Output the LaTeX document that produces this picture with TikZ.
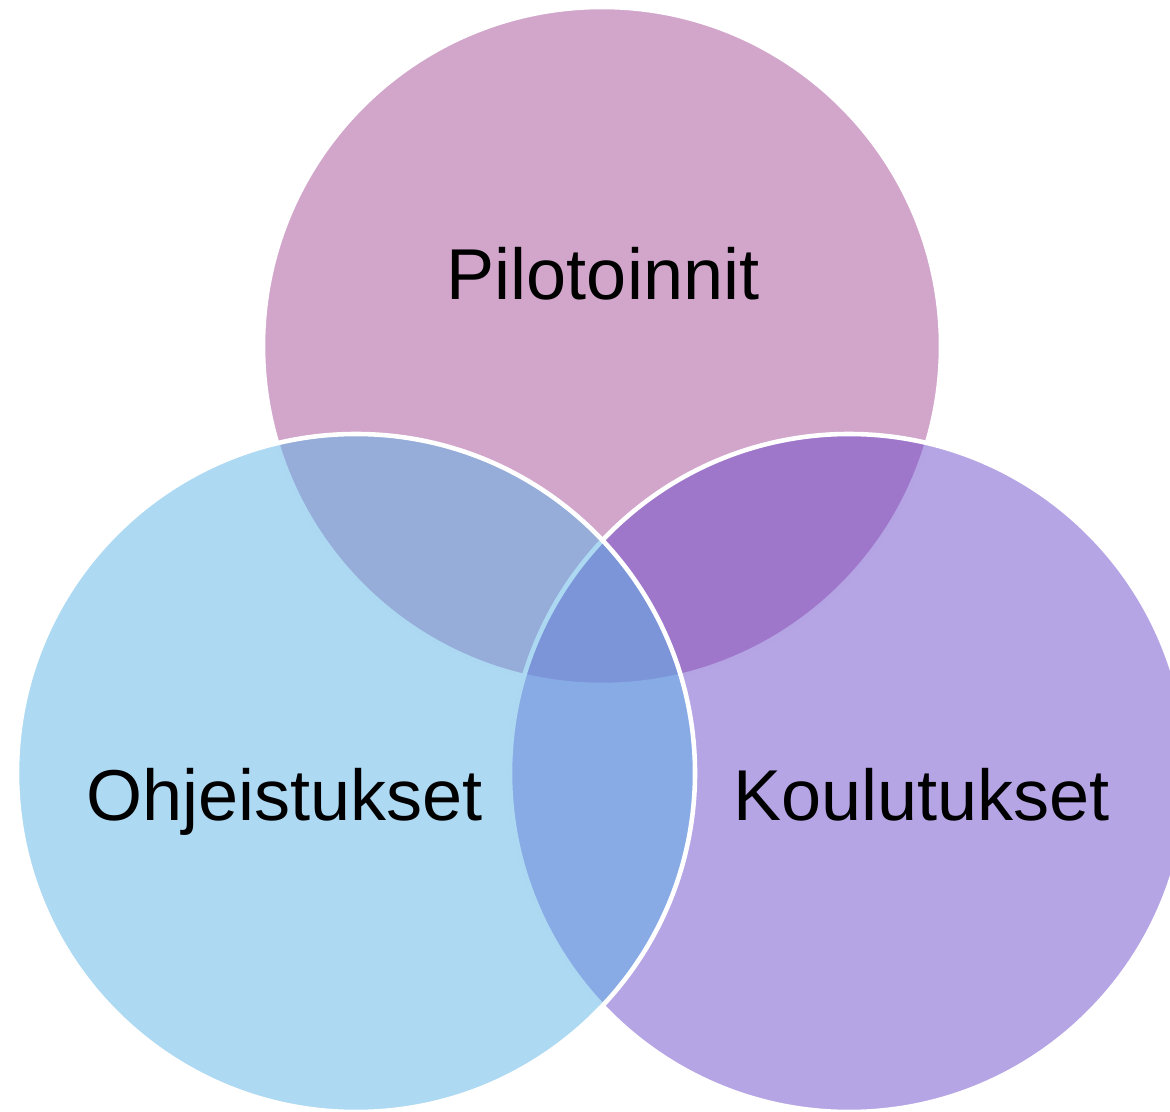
\documentclass[tikz,border=0pt]{standalone}
\usepackage{fontspec}
\setmainfont{Liberation Sans}
\usetikzlibrary{shapes}
\definecolor{pilotcol}{RGB}{165,77,151}
\definecolor{koulucol}{RGB}{109,75,203}
\definecolor{ohjecol}{RGB}{91,179,231}
\tikzstyle{ring} = [circle,draw=white,line width=1.3pt,fill opacity=0.5,inner sep=0pt,minimum size=6.78cm]

\begin{document}
\begin{tikzpicture}
		[
		word/.style={
		anchor=base,
		inner sep=0pt,
		font=\fontsize{20.5}{25}\selectfont}
		]
		\clip (0,0) rectangle (11.7,11.11);
		\node[ring,fill=pilotcol](pilot_ring) at (6.02,7.65) {};
		\node[ring,fill=koulucol](koulu_ring) at (8.49,3.38) {};
		\node[ring,fill=ohjecol](ohje_ring) at (3.56,3.38) {};
		\node[word](pilot) at (6.03,8.11) {Pilotoinnit};
		\node[word](ohje) at (2.845,2.91) {Ohjeistukset};
		\node[word](koulu) at (9.215,2.91) {Koulutukset};
		\end{tikzpicture}
\end{document}
